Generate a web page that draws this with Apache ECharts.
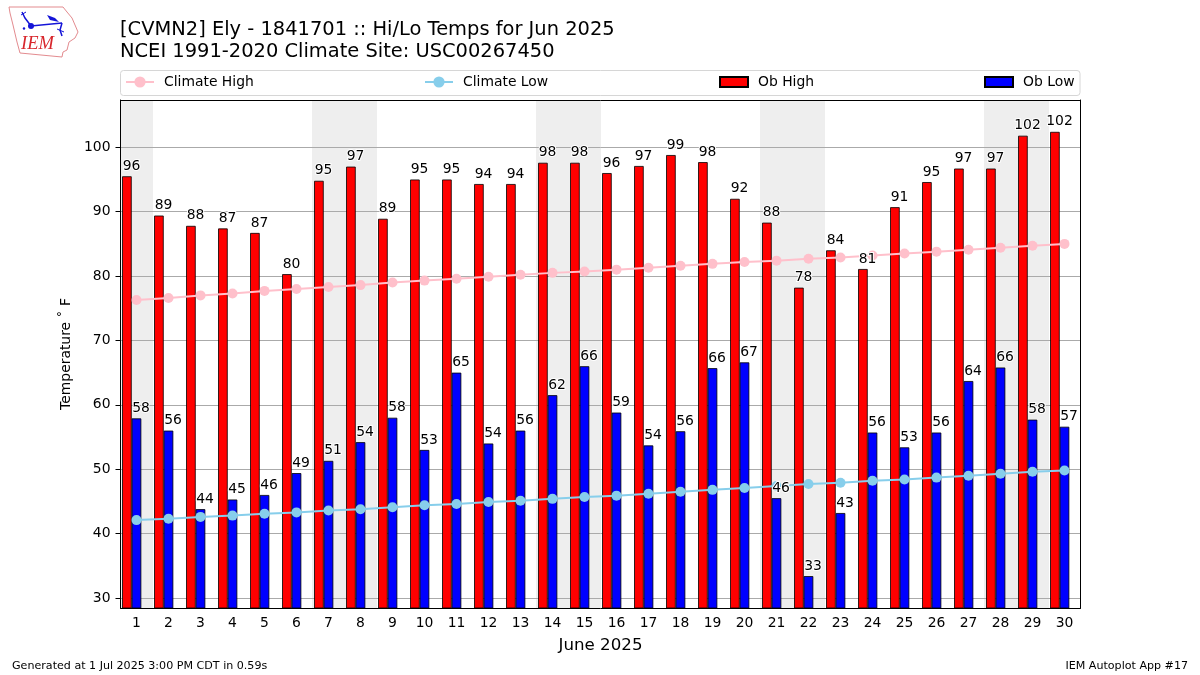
<!DOCTYPE html>
<html>
<head>
<meta charset="utf-8">
<title>Hi/Lo Temps for Jun 2025</title>
<script src="https://cdn.jsdelivr.net/npm/echarts@6/dist/echarts.min.js"></script>
<style>
  html, body { margin: 0; padding: 0; background: #fff; }
  #chart { width: 1200px; height: 675px; }
</style>
</head>
<body>
<div id="chart"></div>
<script>
const days = ['1', '2', '3', '4', '5', '6', '7', '8', '9', '10', '11', '12', '13', '14', '15',
  '16', '17', '18', '19', '20', '21', '22', '23', '24', '25', '26', '27', '28', '29', '30'];
const obHigh = [95.5, 89.4, 87.8, 87.4, 86.7, 80.3, 94.8, 97, 88.9, 95, 95, 94.3, 94.3, 97.6, 97.6,
  96, 97.1, 98.8, 97.7, 92, 88.3, 78.2, 84, 81.1, 90.7, 94.6, 96.7, 96.7, 101.8, 102.4];
const obLow = [57.9, 56, 43.8, 45.3, 46, 49.4, 51.3, 54.2, 58, 53, 65, 54, 56, 61.5, 66,
  58.8, 53.7, 55.9, 65.7, 66.6, 45.5, 33.4, 43.2, 55.7, 53.4, 55.7, 63.7, 65.8, 57.7, 56.6];
const climateHigh = [76.3, 76.6, 77, 77.3, 77.7, 78, 78.3, 78.6, 79, 79.3, 79.6, 79.9, 80.2, 80.5, 80.7,
  81, 81.3, 81.6, 81.9, 82.2, 82.4, 82.7, 82.9, 83.2, 83.5, 83.8, 84.1, 84.4, 84.7, 85];
const climateLow = [42.1, 42.3, 42.6, 42.8, 43.1, 43.3, 43.6, 43.8, 44.1, 44.4, 44.6, 44.9, 45.1, 45.4, 45.7,
  45.9, 46.2, 46.5, 46.8, 47.1, 47.4, 47.7, 47.9, 48.2, 48.4, 48.7, 49, 49.3, 49.6, 49.8];
const weekendDays = ['1', '7', '8', '14', '15', '21', '22', '28', '29'];
const tempTicks = [30, 40, 50, 60, 70, 80, 90, 100];
const yMin = 28.45;
const yMax = 107.35;

const FONT = '"DejaVu Sans"';
const TEXT = 13.9;

function lineSeries(name, data, color) {
  return {
    name, type: 'line', data, z: 5, symbol: 'circle', symbolSize: 10,
    lineStyle: {color, width: 2}, itemStyle: {color}
  };
}

function barSeries(name, data, color) {
  return {
    name, type: 'bar', data, z: 4, barWidth: 9.6, barGap: 0,
    itemStyle: {color, borderColor: '#000', borderWidth: 0.8}
  };
}

// labels live on their own series so that they sit above the climate lines
function labelSeries(data, shift) {
  return {
    type: 'scatter', data, z: 7, symbolSize: 0, silent: true,
    itemStyle: {opacity: 1},
    label: {
      show: true, position: 'top', distance: 3, offset: [shift, 0],
      fontSize: TEXT, fontFamily: FONT, color: '#000',
      textBorderColor: '#fff', textBorderWidth: 2,
      formatter: (p) => Math.round(p.value)
    }
  };
}

function legendAt(name, left, itemHeight, icon) {
  return {
    data: [{name, icon}], left, top: 75, padding: 0, itemWidth: 28, itemHeight,
    selectedMode: false,
    textStyle: {fontSize: TEXT, fontFamily: FONT, color: '#000', padding: [0, 0, 0, 5]}
  };
}

const chart = echarts.init(document.getElementById('chart'));
chart.setOption({
  animation: false,
  backgroundColor: '#fff',
  textStyle: {fontFamily: FONT},
  title: [
    {text: '[CVMN2] Ely - 1841701 :: Hi/Lo Temps for Jun 2025\nNCEI 1991-2020 Climate Site: USC00267450',
      left: 120, top: 19, padding: 0,
      textStyle: {fontSize: 19.44, fontWeight: 'normal', fontFamily: FONT, color: '#000', lineHeight: 22}},
    {text: 'Generated at 1 Jul 2025 3:00 PM CDT in 0.59s', left: 12, top: 661, padding: 0,
      textStyle: {fontSize: 11.1, fontWeight: 'normal', fontFamily: FONT, color: '#000'}},
    {text: 'IEM Autoplot App #17', right: 12, top: 661, padding: 0,
      textStyle: {fontSize: 11.1, fontWeight: 'normal', fontFamily: FONT, color: '#000'}}
  ],
  legend: [
    legendAt('Climate High', 125, 14),
    legendAt('Climate Low', 424, 14),
    legendAt('Ob High', 719, 10, 'rect'),
    legendAt('Ob Low', 984, 10, 'rect')
  ],
  grid: {left: 120.5, right: 119.5, top: 100, height: 508},
  xAxis: [
    {
      type: 'category', data: days, z: 6, position: 'bottom',
      name: 'June 2025', nameLocation: 'middle', nameGap: 29,
      nameTextStyle: {fontSize: 16.67, color: '#000', fontFamily: FONT},
      axisLine: {onZero: false, lineStyle: {color: '#000', width: 1}},
      axisTick: {alignWithLabel: true, length: 5, lineStyle: {color: '#000'}},
      axisLabel: {interval: 0, margin: 8, fontSize: TEXT, color: '#000', fontFamily: FONT},
      splitLine: {show: false}
    },
    {
      // weekend shading runs on this one, it also closes the frame on top
      type: 'category', data: days, z: 6, position: 'top',
      axisLine: {onZero: false, lineStyle: {color: '#000', width: 1}},
      axisTick: {show: false}, axisLabel: {show: false}, splitLine: {show: false}
    }
  ],
  yAxis: [
    {
      type: 'value', min: yMin, max: yMax, z: 3, position: 'left',
      name: 'Temperature \u02DA F', nameLocation: 'middle', nameGap: 46,
      nameTextStyle: {fontSize: TEXT, color: '#000', fontFamily: FONT},
      axisLine: {show: true, onZero: false, lineStyle: {color: '#000', width: 1}},
      axisTick: {show: true, length: 5, customValues: tempTicks, lineStyle: {color: '#000'}},
      axisLabel: {margin: 10, fontSize: TEXT, color: '#000', fontFamily: FONT, customValues: tempTicks},
      splitLine: {show: true, lineStyle: {color: '#aaa', width: 1}}
    },
    {
      type: 'value', min: yMin, max: yMax, z: 3, position: 'right',
      axisLine: {show: true, onZero: false, lineStyle: {color: '#000', width: 1}},
      axisTick: {show: false}, axisLabel: {show: false}, splitLine: {show: false}
    }
  ],
  series: [
    {
      // slightly wider than a day so neighbouring shaded days leave no seam
      type: 'bar', xAxisIndex: 1, z: 1, barWidth: 33, silent: true,
      data: days.map((d) => (weekendDays.includes(d) ? yMax : null)),
      itemStyle: {color: '#eeeeee'}
    },
    barSeries('Ob High', obHigh, '#ff0000'),
    barSeries('Ob Low', obLow, '#0000ff'),
    // empty third slot, keeps the low bar centred on the day tick
    {type: 'bar', data: [], barWidth: 9.6, barGap: 0},
    lineSeries('Climate High', climateHigh, '#ffc0cb'),
    lineSeries('Climate Low', climateLow, '#87ceeb'),
    labelSeries(obHigh, -5),
    labelSeries(obLow, 4.5)
  ],
  graphic: [
    // legend frame
    {type: 'rect', z: 0, shape: {x: 120.5, y: 70.5, width: 959.5, height: 25, r: 3},
      style: {fill: '#fff', stroke: '#d6d6d6', lineWidth: 1}},
    // IEM logo
    {type: 'polygon', z: 10, shape: {points: [[9, 7], [63, 7], [67, 12], [72, 18], [78, 32], [75, 38], [69, 42],
      [67, 50], [63, 52], [62, 57], [20, 53], [17, 42], [13, 25], [10, 13]]},
      style: {fill: 'none', stroke: '#e38b8f', lineWidth: 1}},
    {type: 'polyline', z: 10, shape: {points: [[22, 12], [25, 18], [31, 26], [62, 23]]},
      style: {fill: 'none', stroke: '#1414d8', lineWidth: 1.5}},
    {type: 'polyline', z: 10, shape: {points: [[21, 15], [26, 12]]},
      style: {fill: 'none', stroke: '#1414d8', lineWidth: 1}},
    {type: 'polyline', z: 10, shape: {points: [[62, 23], [60, 30], [62, 36]]},
      style: {fill: 'none', stroke: '#1414d8', lineWidth: 1.5}},
    {type: 'polyline', z: 10, shape: {points: [[57, 29], [64, 32]]},
      style: {fill: 'none', stroke: '#1414d8', lineWidth: 1}},
    {type: 'polygon', z: 10, shape: {points: [[47, 15], [55, 18], [59, 22], [50, 20]]},
      style: {fill: '#1414d8'}},
    {type: 'circle', z: 10, shape: {cx: 31, cy: 26, r: 3}, style: {fill: '#1414d8'}},
    {type: 'circle', z: 10, shape: {cx: 24, cy: 28.5, r: 1.2}, style: {fill: '#1414d8'}},
    {type: 'text', z: 10, x: 21, y: 35, style: {text: 'IEM', fill: '#d8262c',
      font: 'italic 18.5px "Liberation Serif"'}}
  ]
});
</script>
</body>
</html>
